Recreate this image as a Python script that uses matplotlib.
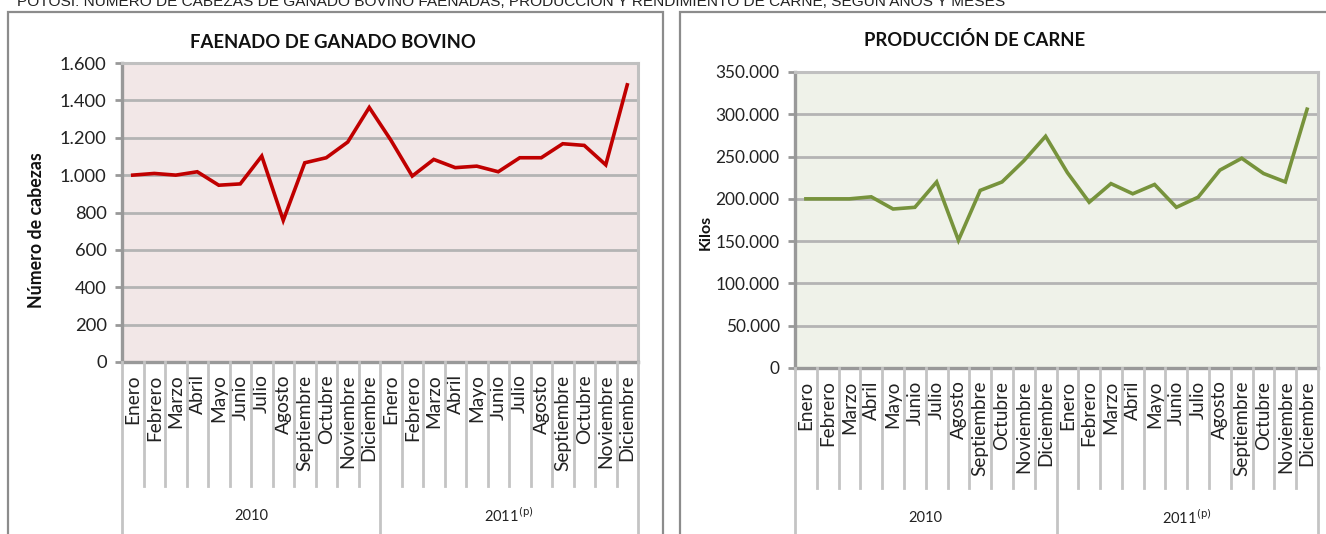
import matplotlib
matplotlib.use("Agg")
import matplotlib.pyplot as plt
from matplotlib.patches import Rectangle
from matplotlib.lines import Line2D
import matplotlib.transforms as mtransforms

W, H = 1326, 534

months = ["Enero", "Febrero", "Marzo", "Abril", "Mayo", "Junio", "Julio",
          "Agosto", "Septiembre", "Octubre", "Noviembre", "Diciembre"]
years = ["2010", "2011$^{\\mathrm{(p)}}$"]
categories = months + months

faenado = [1000, 1009, 1000, 1018, 946, 953, 1102, 758, 1066, 1093, 1177, 1362,
           1188, 995, 1084, 1040, 1048, 1018, 1093, 1093, 1168, 1159, 1055, 1483]
carne = [200000, 200000, 200000, 202400, 188000, 190000, 220000, 151000, 210000,
         220000, 245000, 274000, 231000, 196000, 218000, 206000, 217000, 190000,
         202000, 234000, 248000, 230000, 220000, 306000]

left_ticks = [0, 200, 400, 600, 800, 1000, 1200, 1400, 1600]
left_ticklabels = ["0", "200", "400", "600", "800", "1.000", "1.200", "1.400", "1.600"]
right_ticks = [0, 50000, 100000, 150000, 200000, 250000, 300000, 350000]
right_ticklabels = ["0", "50.000", "100.000", "150.000", "200.000", "250.000",
                    "300.000", "350.000"]

header = ("POTOSÍ: NÚMERO DE CABEZAS DE GANADO BOVINO FAENADAS, PRODUCCIÓN Y "
          "RENDIMIENTO DE CARNE, SEGÚN AÑOS Y MESES")

FONT = ["Lato", "DejaVu Sans"]
plt.rcParams["font.family"] = FONT

fig = plt.figure(figsize=(W / 100, H / 100), dpi=100)


def rect(l, t, r, b):
    return [l / W, 1 - b / H, (r - l) / W, (b - t) / H]


def fx(x):
    return x / W


def fy(y):
    return 1 - y / H


# header (cut at the top edge, as in the source)
fig.text(fx(17), fy(5.5), header, fontsize=11.1, va="baseline", ha="left",
         family=["Liberation Sans Narrow", "Liberation Sans", "DejaVu Sans"],
         color="#222222")

# outer chart frames
for (l, t, r, b) in [(8, 12, 663, 560), (680, 12, 1345, 560)]:
    fig.patches.append(Rectangle((fx(l), fy(b)), fx(r - l), (b - t) / H,
                                 transform=fig.transFigure, fill=False,
                                 edgecolor="#8c8c8c", linewidth=1.6,
                                 clip_on=False))


def make_panel(box, values, ticks, ticklabels, ylim, bg, color, title, title_xy,
               ylabel, ylabel_xy, ylabel_size, sep_bottom, year_y, ytick_size,
               xtick_size):
    ax = fig.add_axes(rect(*box))
    n = len(values)
    x = list(range(n))
    ax.plot(x, values, color=color, linewidth=2.6, solid_joinstyle="miter",
            zorder=3)
    ax.set_xlim(-0.5, n - 0.5)
    ax.set_ylim(*ylim)
    ax.set_facecolor(bg)
    ax.set_yticks(ticks)
    ax.set_yticklabels(ticklabels, fontsize=ytick_size, color="#222222")
    ax.yaxis.grid(True, color="#b4b4b4", linewidth=2.0, zorder=1)
    ax.set_axisbelow(True)
    ax.tick_params(axis="y", length=5, width=2, color="#999999", pad=6)
    ax.set_xticks(x)
    ax.set_xticklabels(categories, rotation=90, fontsize=xtick_size,
                       color="#222222")
    ax.tick_params(axis="x", length=0, pad=9)
    for s in ["left", "bottom"]:
        ax.spines[s].set_color("#999999")
        ax.spines[s].set_linewidth(2.4)
    for s in ["right", "top"]:
        ax.spines[s].set_color("#c0c0c0")
        ax.spines[s].set_linewidth(2.2)

    # category separators below the axis
    trans = mtransforms.blended_transform_factory(ax.transData, fig.transFigure)
    for i in range(n + 1):
        xb = i - 0.5
        if i in (0, 12, 24):
            y0 = 0.0
        else:
            y0 = fy(sep_bottom)
        line = Line2D([xb, xb], [fy(box[3]), y0], transform=trans,
                      color="#c4c4c4", linewidth=2.0, clip_on=False)
        fig.lines.append(line)
    # year labels
    for k, yl in enumerate(years):
        t = fig.text(0, fy(year_y), yl, transform=trans, fontsize=10.5,
                     color="#222222", ha="center", va="center")
        t.set_x(5.5 + 12 * k)

    fig.text(fx(title_xy[0]), fy(title_xy[1]), title, fontsize=13.3,
             fontweight="bold", ha="center", va="center", color="#111111")
    fig.text(fx(ylabel_xy[0]), fy(ylabel_xy[1]), ylabel, fontsize=ylabel_size,
             fontweight="bold", rotation=90, ha="center", va="center",
             color="#111111")
    return ax


make_panel((122, 63, 638, 362), faenado, left_ticks, left_ticklabels, (0, 1600),
           "#f2e7e7", "#c00000", "FAENADO DE GANADO BOVINO", (333, 43),
           "Número de cabezas", (37, 230), 12.8, 486, 516, 13.2, 13.8)
make_panel((795, 72, 1318, 368), carne, right_ticks, right_ticklabels,
           (0, 350000), "#eff2e9", "#77933c", "PRODUCCIÓN DE CARNE", (975, 40),
           "Kilos", (706, 232), 11.5, 488, 518, 12.4, 13.6)

fig.savefig("out.png", dpi=100)
